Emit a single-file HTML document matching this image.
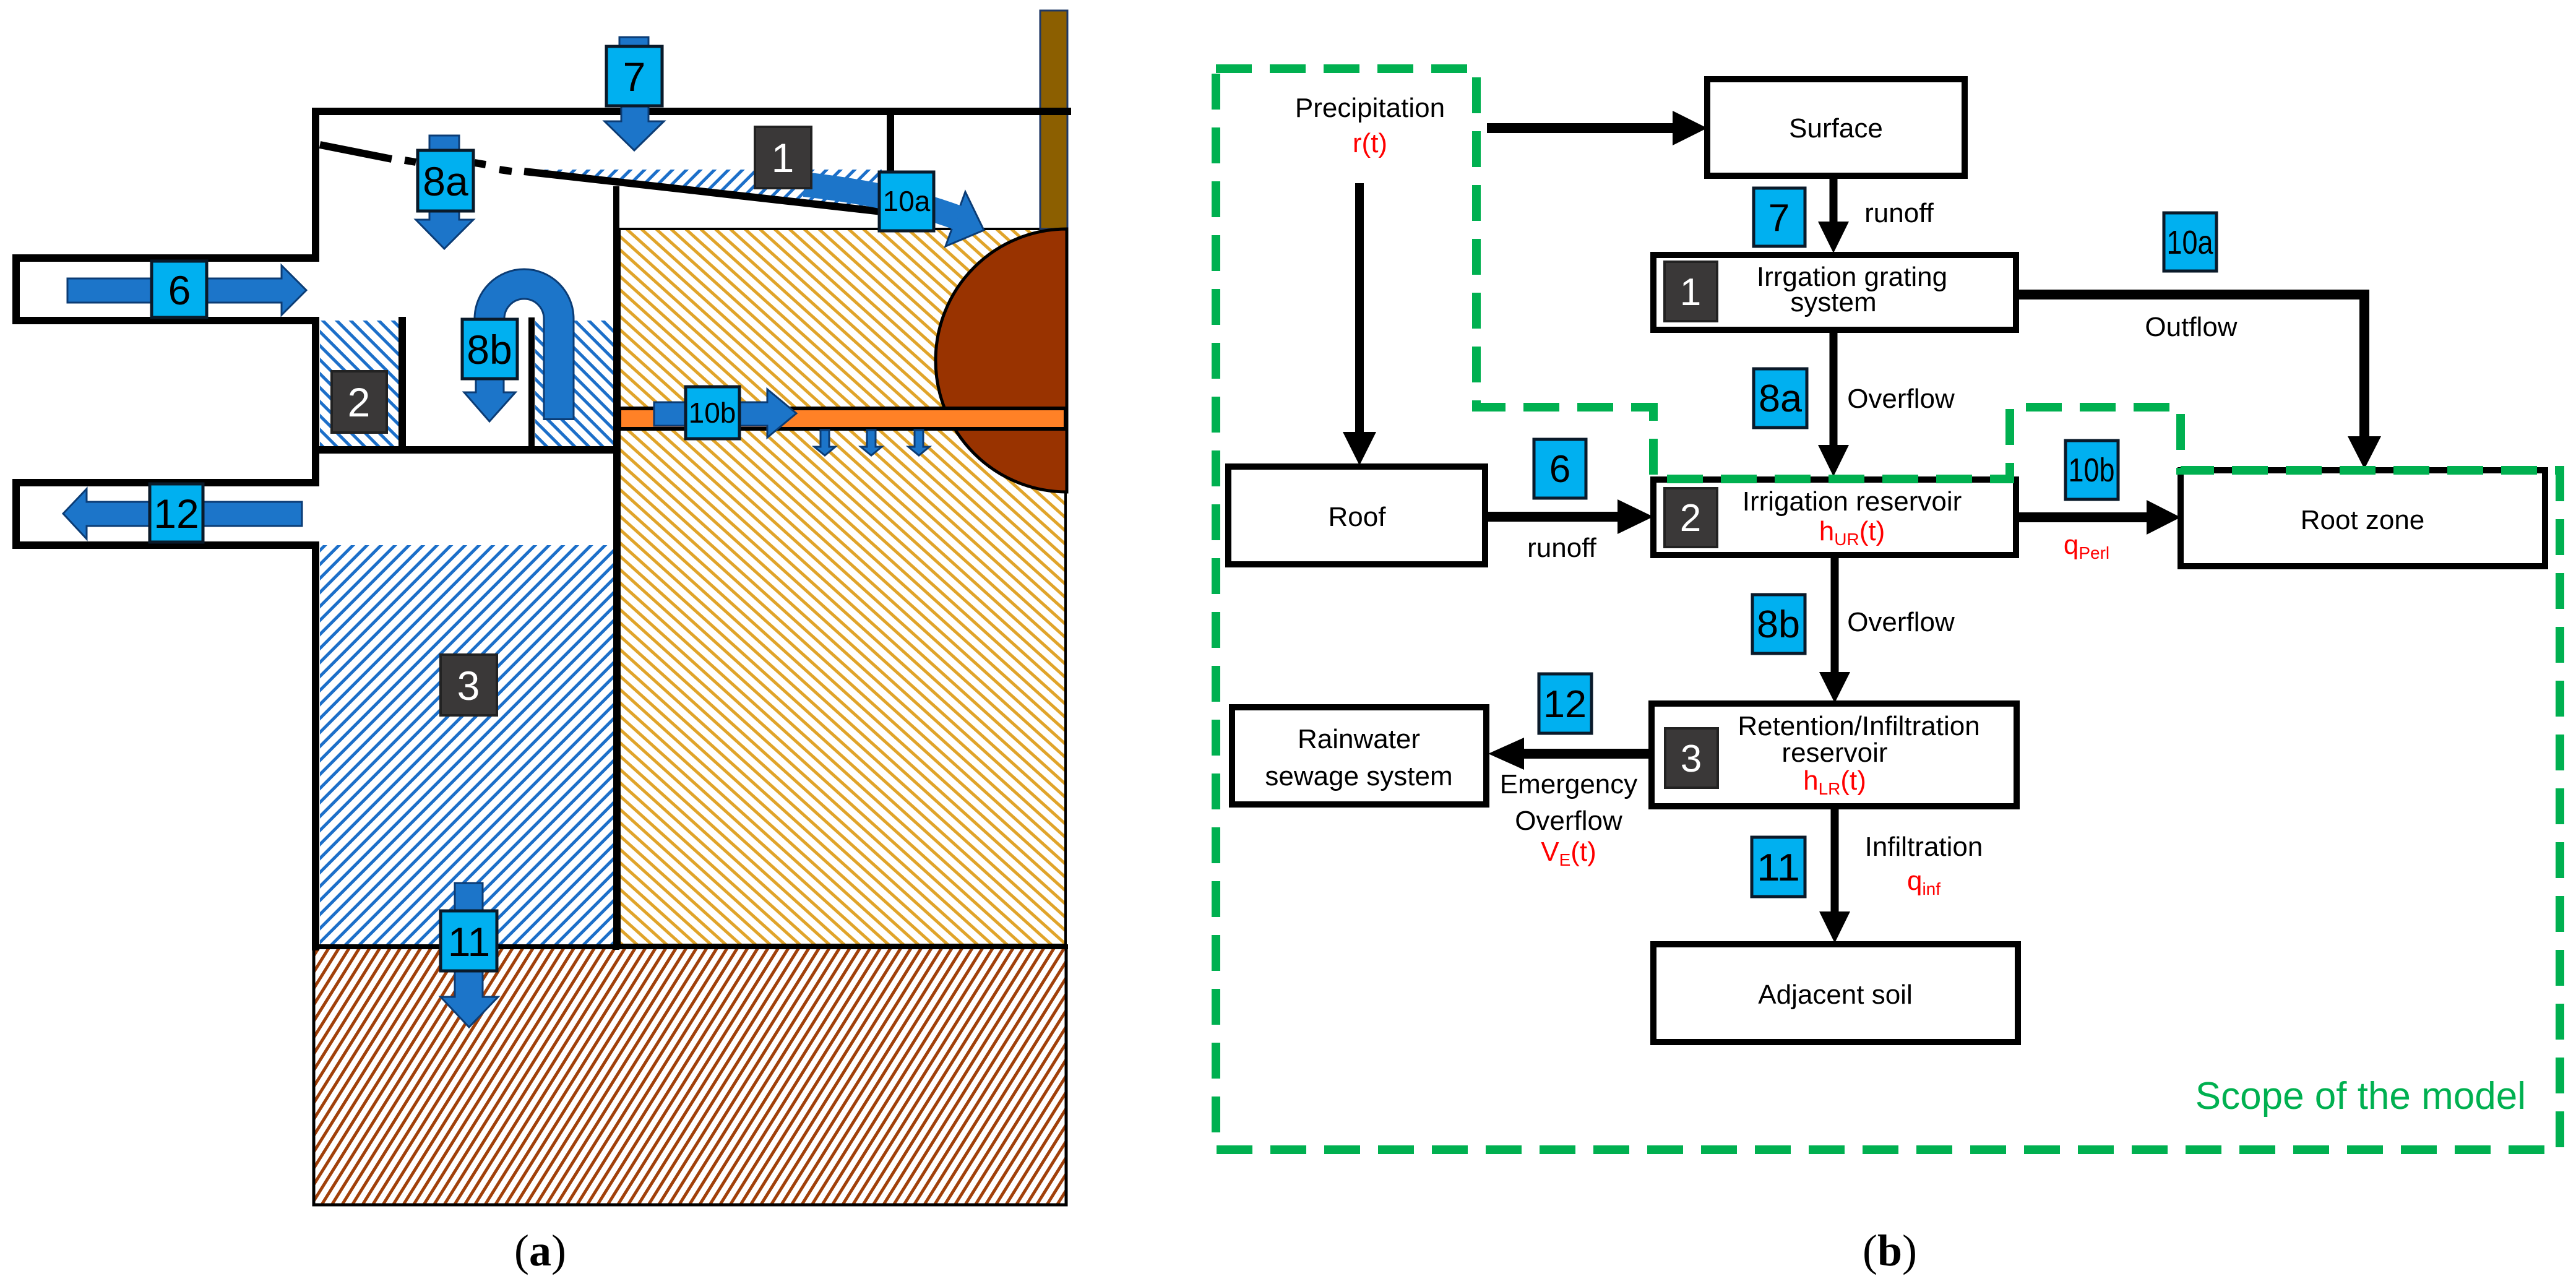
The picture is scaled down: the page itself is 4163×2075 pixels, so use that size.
<!DOCTYPE html>
<html><head><meta charset="utf-8"><style>html,body{margin:0;padding:0;background:#fff}svg{display:block}</style></head>
<body>
<svg width="4163" height="2075" viewBox="0 0 4163 2075" xmlns="http://www.w3.org/2000/svg" font-family="Liberation Sans, sans-serif">
<defs>
<pattern id="hb1" width="16" height="16" patternUnits="userSpaceOnUse" patternTransform="rotate(45)"><rect width="16" height="16" fill="#fff"/><rect width="5" height="16" fill="#1C6FC9"/></pattern>
<pattern id="hb2" width="16" height="16" patternUnits="userSpaceOnUse" patternTransform="rotate(-45)"><rect width="16" height="16" fill="#fff"/><rect width="5" height="16" fill="#1C6FC9"/></pattern>
<pattern id="hy" width="16" height="16" patternUnits="userSpaceOnUse" patternTransform="rotate(-48)"><rect width="16" height="16" fill="#fff"/><rect width="5" height="16" fill="#E0A42A"/></pattern>
<pattern id="hr" width="14" height="14" patternUnits="userSpaceOnUse" patternTransform="rotate(32)"><rect width="14" height="14" fill="#fff"/><rect width="5" height="14" fill="#A0400A"/></pattern>
</defs>
<rect width="4163" height="2075" fill="#fff"/>

<!-- ===== (a) ===== -->
<rect x="1001" y="370" width="721" height="1157" fill="url(#hy)" stroke="#000" stroke-width="4"/>
<rect x="507" y="1530" width="1216" height="417" fill="url(#hr)" stroke="#000" stroke-width="5"/>
<rect x="517" y="881" width="474" height="646" fill="url(#hb1)"/>
<rect x="517" y="518" width="128" height="204" fill="url(#hb2)"/>
<rect x="865" y="518" width="126" height="204" fill="url(#hb2)"/>
<polygon points="860,274 1425,274 1425,341 860,278" fill="url(#hb1)"/>
<rect x="1681" y="17" width="44" height="353" fill="#8C5F00" stroke="#1F3864" stroke-width="3"/>
<path d="M1724,370 A212,212.5 0 0 0 1724,795 Z" fill="#993300" stroke="#000" stroke-width="5"/>
<rect x="1001" y="660" width="721" height="33" fill="#FF8126" stroke="#000" stroke-width="6"/>

<g stroke="#000" stroke-width="12" fill="none" stroke-linecap="square">
<line x1="510" y1="180" x2="1725" y2="180"/>
<line x1="510" y1="180" x2="510" y2="417"/>
<polyline points="510,417 26,417 26,518 510,518"/>
<line x1="510" y1="518" x2="510" y2="780"/>
<polyline points="510,780 26,780 26,881 510,881"/>
<line x1="510" y1="881" x2="510" y2="1530"/>
<line x1="650" y1="518" x2="650" y2="727"/>
<line x1="510" y1="727" x2="996" y2="727"/>
<line x1="1439" y1="180" x2="1439" y2="276"/>
<line x1="510" y1="1530" x2="1722" y2="1530" stroke-width="8"/>
<line x1="996" y1="306" x2="996" y2="1530" stroke-width="10"/>
<line x1="859" y1="518" x2="859" y2="727" stroke-width="10"/>
<line x1="517" y1="234" x2="633" y2="257" stroke-linecap="butt"/>
<line x1="654" y1="259" x2="672" y2="262" stroke-linecap="butt"/>
<line x1="767" y1="263" x2="785" y2="266" stroke-linecap="butt"/>
<line x1="807" y1="274" x2="827" y2="277" stroke-linecap="butt"/>
<line x1="847" y1="277" x2="1425" y2="342" stroke-linecap="butt"/>
</g>

<g fill="#1C75C9" stroke="#0B3C75" stroke-width="3">
<polygon points="1001,60 1048,60 1048,196 1073,196 1025,243 977,196 1004,196 1004,171 1001,171"/>
<polygon points="694,219 742,219 742,355 765,355 718,402 672,355 694,355"/>
<polygon points="109,450 455,450 455,429 495,469 455,509 455,489 109,489"/>
<polygon points="488,811 140,811 140,790 102,830 140,871 140,850 488,850"/>
<polygon points="1057,650 1240,650 1240,629 1287,668 1240,707 1240,688 1057,688"/>
<polygon points="735,1427 780,1427 780,1611 805,1611 758,1660 712,1611 735,1611"/>
<polygon points="769,612 814,612 814,634 833,634 791,681 750,634 769,634"/>
<polygon points="1326,695 1340,695 1340,722 1350,722 1333,736 1316,722 1326,722"/>
<polygon points="1401,695 1415,695 1415,722 1425,722 1408,736 1391,722 1401,722"/>
<polygon points="1478,695 1492,695 1492,722 1502,722 1485,736 1468,722 1478,722"/>
<polygon points="1560,310 1590,372 1528,398"/>
</g>
<path d="M791,520 L791,515 A56,56 0 0 1 903,515 L903,679" fill="none" stroke="#0B3C75" stroke-width="51"/>
<path d="M791,522 L791,515 A56,56 0 0 1 903,515 L903,676" fill="none" stroke="#1C75C9" stroke-width="45"/>
<path d="M1300,298 Q1450,315 1548,352" fill="none" stroke="#1C75C9" stroke-width="40"/>

<g fill="#00B0F0" stroke="#0A1A2A" stroke-width="5">
<rect x="980" y="75" width="90" height="96"/>
<rect x="675" y="243" width="90" height="98"/>
<rect x="747" y="516" width="89" height="96"/>
<rect x="245" y="422" width="89" height="91"/>
<rect x="242" y="782" width="86" height="94"/>
<rect x="1108" y="625" width="87" height="84"/>
<rect x="712" y="1472" width="91" height="97"/>
<rect x="1421" y="278" width="88" height="95"/>
</g>
<g fill="#3A3838" stroke="#222" stroke-width="4">
<rect x="1220" y="205" width="91" height="99"/>
<rect x="536" y="600" width="89" height="99"/>
<rect x="712" y="1058" width="91" height="98"/>
</g>
<g font-size="66" text-anchor="middle" fill="#000">
<text x="1025" y="147">7</text>
<text x="720" y="316">8a</text>
<text x="791" y="588">8b</text>
<text x="290" y="492">6</text>
<text x="285" y="853">12</text>
<text x="758" y="1545">11</text>
<text x="1151" y="683" font-size="46">10b</text>
<text x="1465" y="341" font-size="46">10a</text>
</g>
<g font-size="66" text-anchor="middle" fill="#fff">
<text x="1265" y="278">1</text>
<text x="580" y="673">2</text>
<text x="757" y="1131">3</text>
</g>
<text x="873" y="2045" font-family="Liberation Serif, serif" font-size="72" text-anchor="middle">(<tspan font-weight="bold">a</tspan>)</text>

<!-- ===== (b) ===== -->
<g fill="#fff" stroke="#000" stroke-width="10">
<rect x="2759" y="128" width="416" height="156"/>
<rect x="2672" y="412" width="586" height="121"/>
<rect x="1985" y="754" width="415" height="158"/>
<rect x="2672" y="775" width="586" height="122"/>
<rect x="3524" y="760" width="589" height="155"/>
<rect x="2669" y="1137" width="590" height="166"/>
<rect x="1991" y="1143" width="411" height="157"/>
<rect x="2672" y="1526" width="589" height="158"/>
</g>
<g stroke="#000" stroke-width="16" fill="none">
<line x1="2403" y1="207" x2="2705" y2="207"/>
<line x1="2197" y1="296" x2="2197" y2="700" stroke-width="14"/>
<line x1="2963" y1="284" x2="2963" y2="360" stroke-width="13"/>
<line x1="2963" y1="533" x2="2963" y2="721" stroke-width="13"/>
<polyline points="3258,476 3821,476 3821,707"/>
<line x1="2400" y1="835" x2="2616" y2="835"/>
<line x1="3258" y1="836" x2="3471" y2="836"/>
<line x1="2965" y1="897" x2="2965" y2="1088" stroke-width="13"/>
<line x1="2669" y1="1218" x2="2461" y2="1218"/>
<line x1="2965" y1="1303" x2="2965" y2="1475" stroke-width="13"/>
</g>
<g fill="#000">
<polygon points="2703,179 2759,207 2703,235"/>
<polygon points="2170,698 2224,698 2197,752"/>
<polygon points="2938,358 2988,358 2963,409"/>
<polygon points="2938,719 2988,719 2963,770"/>
<polygon points="3794,705 3848,705 3821,758"/>
<polygon points="2614,807 2672,835 2614,863"/>
<polygon points="3469,808 3524,836 3469,864"/>
<polygon points="2940,1086 2990,1086 2965,1136"/>
<polygon points="2463,1192 2405,1218 2463,1244"/>
<polygon points="2940,1473 2990,1473 2965,1524"/>
</g>
<path d="M1965,111 L2386,111 L2386,658 L2672,658 L2672,774 L3248,774 L3248,658 L3524,658 L3524,760 L4137,760 L4137,1858 L1965,1858 Z" fill="none" stroke="#00B050" stroke-width="14" stroke-dasharray="58 29"/>

<g fill="#00B0F0" stroke="#0A1A2A" stroke-width="5">
<rect x="2834" y="304" width="83" height="94"/>
<rect x="3497" y="344" width="85" height="94"/>
<rect x="2834" y="596" width="86" height="95"/>
<rect x="2479" y="710" width="84" height="95"/>
<rect x="3338" y="712" width="85" height="95"/>
<rect x="2832" y="961" width="85" height="95"/>
<rect x="2487" y="1089" width="85" height="96"/>
<rect x="2831" y="1353" width="86" height="96"/>
</g>
<g fill="#3A3838" stroke="#222" stroke-width="4">
<rect x="2690" y="423" width="85" height="96"/>
<rect x="2690" y="789" width="85" height="95"/>
<rect x="2691" y="1177" width="85" height="96"/>
</g>
<g font-size="62" text-anchor="middle" fill="#000">
<text x="2875" y="373">7</text>
<text x="2877" y="665" textLength="70" lengthAdjust="spacingAndGlyphs">8a</text>
<text x="2521" y="779">6</text>
<text x="2874" y="1030" textLength="70" lengthAdjust="spacingAndGlyphs">8b</text>
<text x="2529" y="1159" textLength="70" lengthAdjust="spacingAndGlyphs">12</text>
<text x="2874" y="1423" textLength="70" lengthAdjust="spacingAndGlyphs">11</text>
<text x="3539" y="410" font-size="54" textLength="75" lengthAdjust="spacingAndGlyphs">10a</text>
<text x="3380" y="778" font-size="54" textLength="75" lengthAdjust="spacingAndGlyphs">10b</text>
</g>
<g font-size="62" text-anchor="middle" fill="#fff">
<text x="2732" y="493">1</text>
<text x="2732" y="858">2</text>
<text x="2733" y="1247">3</text>
</g>
<g font-size="44" fill="#000" text-anchor="middle">
<text x="2214" y="189">Precipitation</text>
<text x="2214" y="246" fill="#FF0000">r(t)</text>
<text x="2967" y="222">Surface</text>
<text x="3069" y="359">runoff</text>
<text x="2993" y="462">Irrgation grating</text>
<text x="2963" y="503">system</text>
<text x="3541" y="543">Outflow</text>
<text x="3072" y="659">Overflow</text>
<text x="2193" y="850">Roof</text>
<text x="2524" y="900">runoff</text>
<text x="2993" y="825">Irrigation reservoir</text>
<text x="2993" y="873" fill="#FF0000">h<tspan font-size="28" dy="8">UR</tspan><tspan dy="-8">(t)</tspan></text>
<text x="3372" y="895" fill="#FF0000">q<tspan font-size="28" dy="8">Perl</tspan></text>
<text x="3818" y="855">Root zone</text>
<text x="3072" y="1020">Overflow</text>
<text x="2196" y="1209">Rainwater</text>
<text x="2196" y="1269">sewage system</text>
<text x="2535" y="1282">Emergency</text>
<text x="2535" y="1341">Overflow</text>
<text x="2535" y="1391" fill="#FF0000">V<tspan font-size="28" dy="8">E</tspan><tspan dy="-8">(t)</tspan></text>
<text x="3004" y="1188">Retention/Infiltration</text>
<text x="2965" y="1231">reservoir</text>
<text x="2965" y="1276" fill="#FF0000">h<tspan font-size="28" dy="8">LR</tspan><tspan dy="-8">(t)</tspan></text>
<text x="3109" y="1383">Infiltration</text>
<text x="3109" y="1438" fill="#FF0000">q<tspan font-size="28" dy="8">inf</tspan></text>
<text x="2966" y="1622">Adjacent soil</text>
</g>
<text x="4082" y="1792" font-size="62" fill="#00B050" text-anchor="end">Scope of the model</text>
<text x="3054" y="2045" font-family="Liberation Serif, serif" font-size="72" text-anchor="middle">(<tspan font-weight="bold">b</tspan>)</text>
</svg>
</body></html>
